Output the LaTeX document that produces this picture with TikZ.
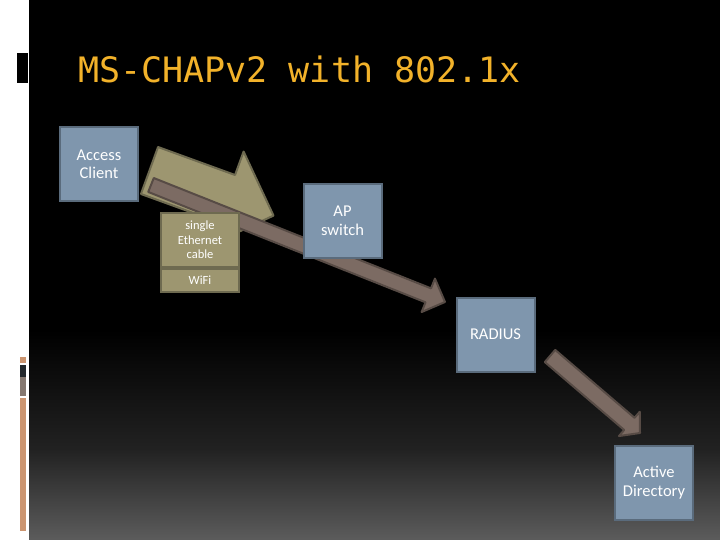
\documentclass[tikz,border=0pt]{standalone}
\usepackage{fontspec}
\setmainfont{Carlito}
\newfontfamily\titlefont{DejaVu Sans Mono}
\usetikzlibrary{calc}
\definecolor{boxfill}{HTML}{7F96AD}
\definecolor{boxline}{HTML}{5A6B7C}
\definecolor{olivefill}{HTML}{9D9670}
\definecolor{oliveline}{HTML}{6E6A50}
\definecolor{brownfill}{HTML}{7C6B63}
\definecolor{brownline}{HTML}{574B45}
\definecolor{titlecol}{HTML}{F2B22A}
\definecolor{barorange}{HTML}{CC9570}
\definecolor{bardark}{HTML}{22272B}
\definecolor{bargray}{HTML}{857870}
\definecolor{bgmid}{HTML}{222222}
\definecolor{bgbottom}{HTML}{5C5C5C}
% block arrow: #1 tail centre, #2 tip, #3 shaft half width, #4 head half width, #5 head length, #6 style
\newcommand{\blockarr}[6]{%
  \draw[#6] ($(#1)!#3!90:(#2)$) -- ($(#2)!#5!(#1)!#3!-90:(#1)$)
    -- ($(#2)!#5!(#1)!#4!-90:(#1)$) -- (#2)
    -- ($(#2)!#5!(#1)!#4!90:(#1)$) -- ($(#2)!#5!(#1)!#3!90:(#1)$)
    -- ($(#1)!#3!-90:(#2)$) -- cycle;}
\begin{document}
\begin{tikzpicture}[x=1pt,y=-1pt,
  bluebox/.style={draw=boxline, line width=2pt, fill=boxfill, text=white,
    font=\fontsize{16.5}{18.5}\selectfont, align=center,
    minimum width=78pt, minimum height=74pt, inner sep=0pt},
  olivebox/.style={draw=oliveline, line width=2pt, fill=olivefill, text=white,
    font=\fontsize{12.5}{14.5}\selectfont, align=center,
    minimum width=78pt, inner sep=0pt},
  olivearrow/.style={draw=oliveline, line width=2pt, fill=olivefill, line join=round},
  brownarrow/.style={draw=brownline, line width=2pt, fill=brownfill, line join=round}]
\useasboundingbox (0,0) rectangle (720,540);
% background
\fill[white] (0,0) rectangle (720,540);
\fill[black] (29,0) rectangle (720,540);
\shade[top color=black, bottom color=bgmid] (29,330) rectangle (720,451);
\shade[top color=bgmid, bottom color=bgbottom] (29,450) rectangle (720,540);
% left decorations
\fill[black] (17,53) rectangle (28,83);
\fill[barorange] (20,357) rectangle (26,363);
\fill[bardark] (20,365) rectangle (26,377);
\fill[bargray] (20,377) rectangle (26,396);
\fill[barorange] (20,398) rectangle (26,531);
% title
\node[anchor=base west, inner sep=0pt, text=titlecol, font=\titlefont\fontsize{35}{40}\selectfont]
  (title) at (78,83) {MS-CHAPv2 with 802.1x};
% arrows
\coordinate (oa-s) at (149.5,170.5);
\coordinate (oa-t) at (273.5,215.6);
\coordinate (ba-s) at (151,185);
\coordinate (ba-t) at (445,302);
\coordinate (ra-s) at (550,356);
\coordinate (ra-t) at (640,433);
\blockarr{oa-s}{oa-t}{25pt}{50pt}{50pt}{olivearrow}
\blockarr{ba-s}{ba-t}{7.5pt}{18pt}{18pt}{brownarrow}
% boxes
\node[bluebox] (client) at (99,164.5) {Access\\Client};
\node[olivebox, minimum height=54pt] (cable) at (200,240) {single\\Ethernet\\cable};
\node[olivebox, minimum height=23pt] (wifi) at (200,280.5) {WiFi};
\node[bluebox] (ap) at (342.5,221) {AP\\switch};
\node[bluebox] (radius) at (495.5,334.5) {RADIUS};
\blockarr{ra-s}{ra-t}{8pt}{16pt}{14pt}{brownarrow}
\node[bluebox] (ad) at (654,482.5) {Active\\Directory};
\end{tikzpicture}
\end{document}
